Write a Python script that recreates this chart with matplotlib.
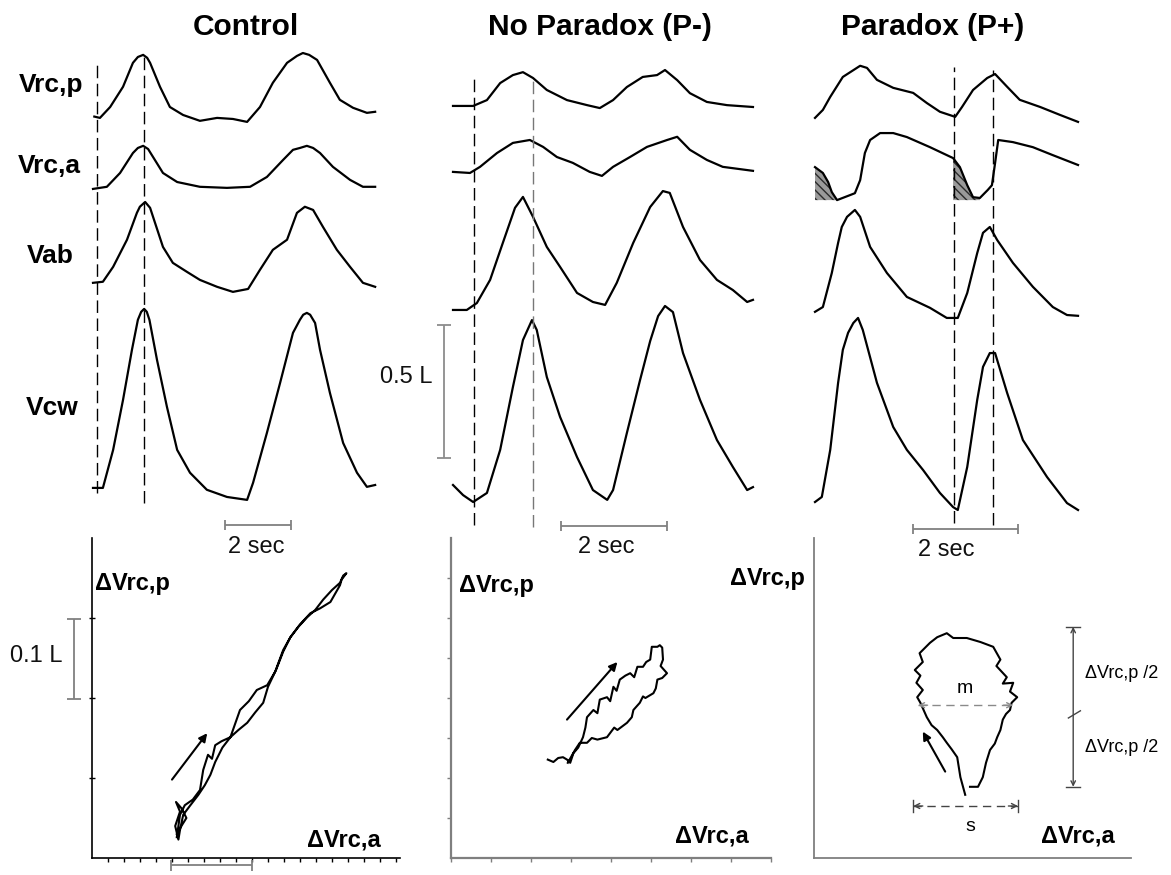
import numpy as np
import matplotlib.pyplot as plt

plt.rcParams['font.family'] = ['Liberation Sans', 'DejaVu Sans']
plt.rcParams['hatch.linewidth'] = 1.0

# ---------------- breathing traces: time (s), volume above trough (L) ----------------
# Control
ctl_rcp_t = [0.04, 0.21, 0.52, 0.91, 1.21, 1.36, 1.52, 1.64, 1.73, 2.03, 2.33, 2.73, 3.24, 3.76,
             4.24, 4.67, 5.06, 5.45, 5.88, 6.18, 6.36, 6.55, 6.79, 7.18, 7.48, 7.88, 8.30, 8.55]
ctl_rcp_v = [0.020, 0.015, 0.056, 0.132, 0.222, 0.244, 0.252, 0.241, 0.222, 0.132, 0.056, 0.026,
             0.004, 0.015, 0.011, 0.000, 0.056, 0.147, 0.222, 0.248, 0.259, 0.252, 0.233, 0.147,
             0.083, 0.053, 0.034, 0.038]
ctl_rca_t = [0, 0.42, 0.82, 1.21, 1.36, 1.52, 1.67, 1.82, 2.12, 2.55, 3.24, 4.06, 4.76, 5.27,
             5.76, 6.06, 6.27, 6.48, 6.67, 6.88, 7.27, 7.79, 8.18, 8.55]
ctl_rca_v = [0, 0.008, 0.060, 0.135, 0.154, 0.162, 0.150, 0.120, 0.060, 0.026, 0.008, 0.004,
             0.008, 0.045, 0.109, 0.147, 0.154, 0.162, 0.154, 0.135, 0.083, 0.034, 0.008, 0.008]
ctl_ab_t = [0, 0.30, 0.61, 1.03, 1.33, 1.42, 1.58, 1.73, 1.82, 2.12, 2.42, 2.85, 3.24, 3.76,
            4.24, 4.70, 5.06, 5.45, 5.88, 6.18, 6.42, 6.67, 6.97, 7.39, 7.79, 8.18, 8.55]
ctl_ab_v = [0.034, 0.038, 0.094, 0.196, 0.297, 0.320, 0.338, 0.316, 0.282, 0.169, 0.109, 0.075,
            0.045, 0.019, 0, 0.011, 0.083, 0.158, 0.196, 0.297, 0.320, 0.308, 0.244, 0.158,
            0.094, 0.034, 0.019]
ctl_cw_t = [0, 0.30, 0.61, 0.91, 1.18, 1.36, 1.46, 1.55, 1.63, 1.71, 1.94, 2.24, 2.55, 2.94,
            3.45, 4.06, 4.67, 4.85, 5.27, 5.67, 6.06, 6.27, 6.37, 6.48, 6.58, 6.73, 6.88, 7.18,
            7.58, 8.00, 8.30, 8.55]
ctl_cw_v = [0.045, 0.045, 0.188, 0.376, 0.564, 0.677, 0.707, 0.718, 0.707, 0.677, 0.526, 0.350,
            0.188, 0.102, 0.038, 0.011, 0, 0.064, 0.252, 0.440, 0.628, 0.677, 0.696, 0.703,
            0.696, 0.665, 0.564, 0.402, 0.214, 0.102, 0.049, 0.056]

# No paradox (P-)
np_rcp_t = [0, 0.38, 0.64, 0.89, 1.13, 1.32, 1.51, 1.77, 2.15, 2.53, 2.77, 3.02, 3.28, 3.58,
            3.85, 4.00, 4.23, 4.47, 4.79, 5.17, 5.66]
np_rcp_v = [0.008, 0.008, 0.030, 0.094, 0.124, 0.135, 0.113, 0.068, 0.030, 0.011, 0, 0.030,
            0.079, 0.117, 0.124, 0.143, 0.105, 0.056, 0.023, 0.011, 0.004]
np_rca_t = [0, 0.32, 0.51, 0.83, 1.13, 1.45, 1.70, 1.96, 2.26, 2.58, 2.81, 3.02, 3.34, 3.66,
            4.04, 4.23, 4.47, 4.79, 5.09, 5.66]
np_rca_v = [0.015, 0.011, 0.034, 0.086, 0.124, 0.135, 0.109, 0.071, 0.049, 0.015, 0, 0.034,
            0.071, 0.109, 0.135, 0.147, 0.098, 0.060, 0.034, 0.019]
np_ab_t = [0, 0.26, 0.45, 0.70, 0.94, 1.17, 1.32, 1.51, 1.77, 2.02, 2.34, 2.64, 2.87, 3.09,
           3.40, 3.72, 3.96, 4.09, 4.34, 4.66, 4.98, 5.28, 5.55, 5.66]
np_ab_v = [0, 0, 0.026, 0.113, 0.252, 0.384, 0.425, 0.350, 0.237, 0.162, 0.064, 0.030, 0.019,
           0.102, 0.252, 0.387, 0.447, 0.440, 0.312, 0.188, 0.113, 0.075, 0.030, 0.038]
np_cw_t = [0, 0.19, 0.38, 0.64, 0.89, 1.13, 1.32, 1.49, 1.58, 1.77, 2.02, 2.34, 2.64, 2.91,
           3.02, 3.28, 3.53, 3.72, 3.87, 4.00, 4.15, 4.34, 4.66, 4.98, 5.28, 5.55, 5.66]
np_cw_v = [0.064, 0.026, 0, 0.034, 0.196, 0.432, 0.609, 0.684, 0.647, 0.470, 0.320, 0.169,
           0.045, 0.008, 0.045, 0.259, 0.459, 0.605, 0.699, 0.737, 0.714, 0.560, 0.384, 0.233,
           0.132, 0.045, 0.056]

# Paradox (P+)
p_rcp_t = [0, 0.15, 0.29, 0.53, 0.86, 0.99, 1.18, 1.49, 1.87, 2.13, 2.38, 2.67, 2.80, 3.01,
           3.28, 3.43, 3.66, 3.90, 4.29, 4.67, 5.01]
p_rcp_v = [0.015, 0.045, 0.094, 0.169, 0.211, 0.203, 0.158, 0.128, 0.109, 0.071, 0.038, 0.019,
           0.056, 0.120, 0.165, 0.180, 0.132, 0.083, 0.056, 0.026, 0]
p_rca_t = [0, 0.15, 0.25, 0.32, 0.42, 0.67, 0.76, 0.86, 0.95, 1.05, 1.24, 1.49, 1.75, 2.19,
           2.63, 2.76, 2.90, 3.01, 3.14, 3.29, 3.37, 3.43, 3.49, 3.77, 4.15, 4.53, 5.01]
p_rca_v = [0.124, 0.102, 0.068, 0.030, 0, 0.019, 0.026, 0.075, 0.177, 0.226, 0.252, 0.252,
           0.237, 0.199, 0.158, 0.124, 0.056, 0.011, 0.008, 0.038, 0.056, 0.139, 0.226, 0.218,
           0.199, 0.169, 0.132]
p_ab_t = [0, 0.15, 0.32, 0.44, 0.51, 0.61, 0.76, 0.86, 1.05, 1.37, 1.75, 2.19, 2.51, 2.72,
          2.90, 3.09, 3.20, 3.33, 3.47, 3.77, 4.15, 4.53, 4.80, 5.01]
p_ab_v = [0.023, 0.041, 0.169, 0.282, 0.342, 0.380, 0.406, 0.380, 0.267, 0.169, 0.079, 0.038,
          0, 0, 0.094, 0.244, 0.320, 0.342, 0.293, 0.207, 0.117, 0.041, 0.011, 0.008]
p_cw_t = [0, 0.13, 0.29, 0.44, 0.53, 0.63, 0.73, 0.82, 0.91, 1.18, 1.49, 1.75, 2.06, 2.38,
          2.63, 2.72, 2.90, 3.09, 3.20, 3.33, 3.43, 3.66, 3.96, 4.42, 4.80, 5.01]
p_cw_v = [0.030, 0.049, 0.226, 0.478, 0.602, 0.666, 0.703, 0.722, 0.677, 0.478, 0.312, 0.226,
          0.150, 0.064, 0.011, 0, 0.162, 0.414, 0.538, 0.590, 0.590, 0.440, 0.263, 0.124,
          0.026, 0]

# onset / peak markers (s)
ctl_marks = [0.12, 1.55]
np_marks = [0.40, 1.51]
p_marks = [2.65, 3.39]

# ---------------- Konno-Mead loops: dVrc,a vs dVrc,p (L) ----------------
ctl_loop_a = [0.106, 0.110, 0.116, 0.126, 0.135, 0.139, 0.145, 0.150, 0.154, 0.162, 0.173, 0.185,
              0.196, 0.206, 0.219, 0.229, 0.239, 0.248, 0.258, 0.269, 0.279, 0.289, 0.300, 0.310,
              0.314, 0.318, 0.312, 0.310, 0.298, 0.285, 0.273, 0.260, 0.248, 0.239, 0.230, 0.220,
              0.214, 0.204, 0.194, 0.183, 0.173, 0.163, 0.154, 0.148, 0.141, 0.133, 0.123, 0.114,
              0.110, 0.108, 0.104, 0.110, 0.105, 0.112, 0.118, 0.113, 0.106]
ctl_loop_p = [0.026, 0.054, 0.066, 0.073, 0.085, 0.110, 0.129, 0.124, 0.141, 0.146, 0.151, 0.185,
              0.196, 0.210, 0.216, 0.233, 0.260, 0.276, 0.289, 0.301, 0.310, 0.323, 0.335, 0.344,
              0.353, 0.356, 0.348, 0.341, 0.320, 0.312, 0.306, 0.292, 0.276, 0.258, 0.235, 0.214,
              0.194, 0.182, 0.169, 0.160, 0.151, 0.138, 0.120, 0.104, 0.091, 0.079, 0.066, 0.054,
              0.035, 0.023, 0.040, 0.058, 0.070, 0.062, 0.050, 0.042, 0.030]

np_loop_a = [0.121, 0.128, 0.134, 0.140, 0.145, 0.149, 0.153, 0.159, 0.165, 0.168, 0.170, 0.178,
             0.183, 0.186, 0.195, 0.199, 0.203, 0.207, 0.211, 0.218, 0.224, 0.229, 0.233, 0.240,
             0.244, 0.249, 0.251, 0.258, 0.261, 0.264, 0.265, 0.262, 0.270, 0.264, 0.258, 0.256,
             0.253, 0.243, 0.240, 0.236, 0.228, 0.226, 0.220, 0.208, 0.204, 0.195, 0.183, 0.176,
             0.170, 0.161, 0.155, 0.146]
np_loop_p = [0.123, 0.120, 0.125, 0.126, 0.123, 0.119, 0.131, 0.138, 0.151, 0.163, 0.176, 0.185,
             0.181, 0.198, 0.201, 0.196, 0.214, 0.209, 0.223, 0.228, 0.231, 0.226, 0.239, 0.239,
             0.245, 0.248, 0.264, 0.264, 0.266, 0.263, 0.248, 0.240, 0.231, 0.225, 0.223, 0.212,
             0.206, 0.200, 0.202, 0.194, 0.185, 0.176, 0.169, 0.160, 0.163, 0.151, 0.148, 0.150,
             0.144, 0.144, 0.135, 0.119]

p_loop_a = [0.189, 0.183, 0.179, 0.172, 0.166, 0.161, 0.154, 0.147, 0.141, 0.133, 0.129, 0.136,
            0.128, 0.133, 0.126, 0.136, 0.132, 0.145, 0.154, 0.166, 0.174, 0.191, 0.208, 0.224,
            0.233, 0.228, 0.241, 0.236, 0.249, 0.245, 0.254, 0.247, 0.245, 0.240, 0.236, 0.233,
            0.229, 0.226, 0.220, 0.215, 0.211, 0.205, 0.195]
p_loop_p = [0.079, 0.101, 0.126, 0.136, 0.144, 0.151, 0.160, 0.166, 0.176, 0.194, 0.201, 0.210,
            0.219, 0.228, 0.235, 0.245, 0.256, 0.269, 0.276, 0.281, 0.275, 0.275, 0.270, 0.264,
            0.248, 0.240, 0.226, 0.218, 0.219, 0.208, 0.201, 0.194, 0.185, 0.180, 0.173, 0.160,
            0.151, 0.143, 0.135, 0.119, 0.101, 0.089, 0.089]

# mid-height width m and full span s of the paradox loop (L)
m_ends = [0.130, 0.249]
m_level = 0.191
s_ends = [0.124, 0.255]
s_level = 0.065
half_span = [0.089, 0.289]

W, H = 1171, 875
PX_PER_L = 266          # vertical scale of the traces
LOOP_PX_PER_L = 800     # scale of the loop panels

fig = plt.figure(figsize=(W / 100, H / 100), dpi=100)


def px_axes(left, top, width, height):
    ax = fig.add_axes([left / W, 1 - (top + height) / H, width / W, height / H])
    ax.patch.set_alpha(0)
    return ax


def ftext(x, y, s, **kw):
    kw.setdefault('va', 'baseline')
    fig.text(x / W, 1 - y / H, s, **kw)


def scale_bar(ax, x0, x1, y0, y1, cap, color='#808080'):
    kw = dict(color=color, lw=1.3, clip_on=False, solid_capstyle='butt')
    ax.plot([x0, x1], [y0, y1], **kw)
    if x0 == x1:
        for y in (y0, y1):
            ax.plot([x0 - cap, x0 + cap], [y, y], **kw)
    else:
        for x in (x0, x1):
            ax.plot([x, x], [y0 - cap, y0 + cap], **kw)


def dashed_span(ax, x0, x1, y, color):
    # dashed measuring line with small open heads at each end
    ax.plot([x0, x1], [y, y], color=color, lw=1.0, ls=(0, (6, 4)))
    head = dict(arrowstyle='->', color=color, lw=1.0, mutation_scale=9, shrinkA=0, shrinkB=0)
    ax.annotate('', xy=(x0, y), xytext=(x0 + 0.012, y), arrowprops=head)
    ax.annotate('', xy=(x1, y), xytext=(x1 - 0.012, y), arrowprops=head)


# ---------------- top: traces ----------------
columns = [
    (93, 375, 33.0, [(ctl_rcp_t, ctl_rcp_v), (ctl_rca_t, ctl_rca_v), (ctl_ab_t, ctl_ab_v), (ctl_cw_t, ctl_cw_v)],
     [1.647, 1.395, 1.008, 0.226], ctl_marks, [(1.868, 0.252), (1.906, 0.214)], ['k', 'k']),
    (453, 753, 53.0, [(np_rcp_t, np_rcp_v), (np_rca_t, np_rca_v), (np_ab_t, np_ab_v), (np_cw_t, np_cw_v)],
     [1.699, 1.444, 0.940, 0.218], np_marks, [(1.816, 0.132), (1.816, 0.124)], ['k', '#777777']),
    (815, 1078, 52.5, [(p_rcp_t, p_rcp_v), (p_rca_t, p_rca_v), (p_ab_t, p_ab_v), (p_cw_t, p_cw_v)],
     [1.647, 1.353, 0.910, 0.188], p_marks, [(1.853, 0.139), (1.842, 0.132)], ['k', 'k']),
]

top_axes = []
for x0, x1, pps, traces, offsets, marks, mark_span, mark_col in columns:
    ax = px_axes(x0, 30, x1 - x0, 530)
    ax.set_xlim(0, (x1 - x0) / pps)
    ax.set_ylim(0, 530 / PX_PER_L)
    ax.axis('off')
    for (t, v), off in zip(traces, offsets):
        ax.plot(t, np.array(v) + off, color='k', lw=1.6, clip_on=False, solid_joinstyle='round')
    for tm, (ya, yb), c in zip(marks, mark_span, mark_col):
        ax.plot([tm, tm], [yb, ya], color=c, lw=1.0, ls=(0, (9, 4)), clip_on=False)
    top_axes.append(ax)

# hatched rib cage paradox segments
ax = top_axes[2]
t = np.array(p_rca_t)
v = np.array(p_rca_v) + 1.353
hatch_on = (t <= 0.42) | ((t >= 2.63) & (t <= 3.14))
ax.fill_between(t, 1.353, v, where=hatch_on, facecolor='#9a9a9a', edgecolor='#2b2b2b',
                hatch='\\\\\\\\', linewidth=0)

# 2 s time bars and the 0.5 L volume bar
scale_bar(top_axes[0], 4.00, 6.00, 0.132, 0.132, 0.019)
scale_bar(top_axes[1], 2.04, 4.04, 0.128, 0.128, 0.019)
scale_bar(top_axes[2], 1.87, 3.87, 0.117, 0.117, 0.019)
scale_bar(top_axes[1], -0.17, -0.17, 0.383, 0.883, 0.14, color='#8c8c8c')

# ---------------- bottom: loops ----------------
ax1 = px_axes(92, 538, 308, 320)
ax1.set_xlim(0, 308 / LOOP_PX_PER_L)
ax1.set_ylim(0, 320 / LOOP_PX_PER_L)
ax2 = px_axes(451, 538, 320, 320)
ax2.set_xlim(0, 0.4)
ax2.set_ylim(0, 0.4)
ax3 = px_axes(814, 538, 317, 320)
ax3.set_xlim(0, 317 / LOOP_PX_PER_L)
ax3.set_ylim(0, 0.4)

for ax, col, lw in [(ax1, 'k', 1.2), (ax2, '#7f7f7f', 1.6), (ax3, '#7f7f7f', 1.3)]:
    for side in ('top', 'right'):
        ax.spines[side].set_visible(False)
    for side in ('left', 'bottom'):
        ax.spines[side].set_color(col)
        ax.spines[side].set_linewidth(lw)
    ax.tick_params(colors=col, labelleft=False, labelbottom=False, length=3, width=1)

ax1.set_yticks([0.1, 0.2, 0.3])
ax1.set_xticks(np.arange(0.02, 0.39, 0.02))
ax1.tick_params(axis='y', direction='inout', length=5)
ax1.tick_params(axis='x', direction='out', length=3)
ax2.set_xticks(np.arange(0, 0.41, 0.05))
ax2.set_yticks(np.arange(0.05, 0.36, 0.05))
ax2.tick_params(direction='out', length=3)
ax3.set_xticks([])
ax3.set_yticks([])

ax1.plot(ctl_loop_a, ctl_loop_p, color='k', lw=1.5)
ax2.plot(np_loop_a, np_loop_p, color='k', lw=1.5)
ax3.plot(p_loop_a, p_loop_p, color='k', lw=1.5)

arrow = dict(arrowstyle='-|>', color='k', lw=1.5, mutation_scale=12, shrinkA=0, shrinkB=0)
ax1.annotate('', xy=(0.144, 0.156), xytext=(0.100, 0.098), arrowprops=arrow)
ax2.annotate('', xy=(0.208, 0.245), xytext=(0.145, 0.173), arrowprops=arrow)
ax3.annotate('', xy=(0.136, 0.158), xytext=(0.164, 0.108), arrowprops=arrow)

# 0.1 L bars for the control loop
scale_bar(ax1, -0.0225, -0.0225, 0.199, 0.299, 0.009, color='#808080')
scale_bar(ax1, 0.099, 0.200, -0.009, -0.009, 0.007, color='#808080')

# m, s and half-amplitude annotations
dashed_span(ax3, m_ends[0], m_ends[1], m_level, '#8a8a8a')
dashed_span(ax3, s_ends[0], s_ends[1], s_level, '#444444')
for xs in s_ends:
    ax3.plot([xs, xs], [s_level - 0.008, s_level + 0.008], color='#444444', lw=1.0)

xv = 0.324
ax3.annotate('', xy=(xv, half_span[1]), xytext=(xv, half_span[0]),
             arrowprops=dict(arrowstyle='<->', color='#444444', lw=1.0, mutation_scale=8,
                             shrinkA=0, shrinkB=0), annotation_clip=False)
for yv in half_span:
    ax3.plot([xv - 0.009, xv + 0.009], [yv, yv], color='#444444', lw=1.0, clip_on=False)
ax3.plot([0.318, 0.333], [0.175, 0.184], color='#444444', lw=1.0, clip_on=False)

# ---------------- text ----------------
title_kw = dict(fontsize=21.5, fontweight='bold', ha='center')
ftext(246, 35, 'Control', **title_kw)
ftext(600, 35, 'No Paradox (P-)', **title_kw)
ftext(933, 35, 'Paradox (P+)', **title_kw)

row_kw = dict(fontsize=19, fontweight='bold')
ftext(19, 92, 'Vrc,p', **row_kw)
ftext(18, 173, 'Vrc,a', **row_kw)
ftext(27, 263, 'Vab', **row_kw)
ftext(26, 415, 'Vcw', **row_kw)

scale_kw = dict(fontsize=17, color='#111111')
ftext(228, 553, '2 sec', **scale_kw)
ftext(578, 553, '2 sec', **scale_kw)
ftext(918, 556, '2 sec', **scale_kw)
ftext(433, 383, '0.5 L', ha='right', **scale_kw)
ftext(63, 662, '0.1 L', ha='right', **scale_kw)

lab_kw = dict(fontsize=17, fontweight='bold')
ftext(95, 590, '\u0394Vrc,p', **lab_kw)
ftext(459, 592, '\u0394Vrc,p', **lab_kw)
ftext(730, 585, '\u0394Vrc,p', **lab_kw)
ftext(307, 847, '\u0394Vrc,a', **lab_kw)
ftext(675, 842, '\u0394Vrc,a', **lab_kw)
ftext(1041, 842, '\u0394Vrc,a', **lab_kw)

ftext(1085, 678, '\u0394Vrc,p /2', fontsize=13)
ftext(1085, 752, '\u0394Vrc,p /2', fontsize=13)
ftext(965, 693, 'm', fontsize=14, ha='center')
ftext(970, 831, 's', fontsize=14, ha='center')

fig.savefig('out.png', dpi=100)
